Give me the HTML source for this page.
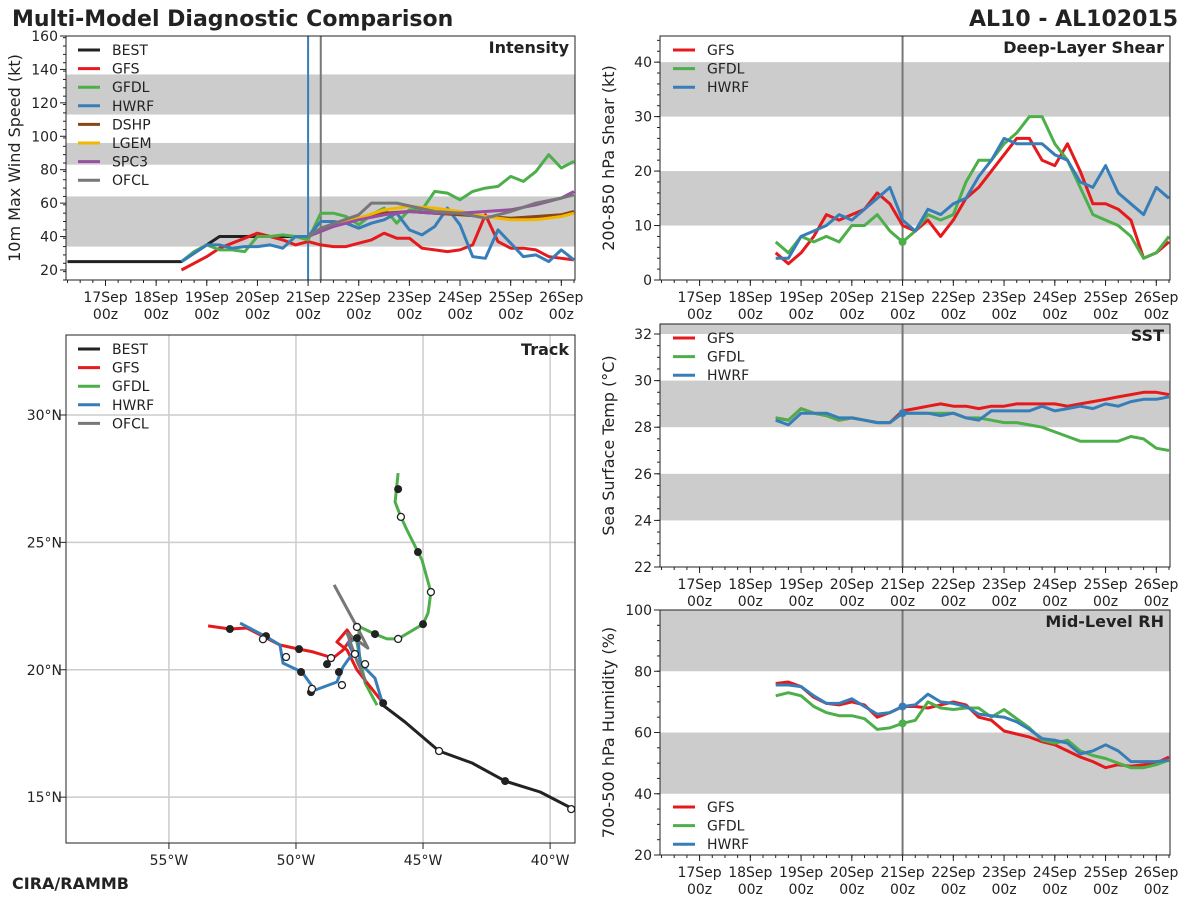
<!DOCTYPE html>
<html><head><meta charset="utf-8">
<style>
html,body{margin:0;padding:0;background:#fff;}
svg{display:block;font-family:"DejaVu Sans","Liberation Sans",sans-serif;}
</style></head>
<body>
<svg id="chart" width="1200" height="900" viewBox="0 0 1200 900" xmlns="http://www.w3.org/2000/svg">
<text x="12" y="26" font-size="22" font-weight="bold" fill="#222">Multi-Model Diagnostic Comparison</text>
<text x="1178" y="26" font-size="22" font-weight="bold" fill="#222" text-anchor="end">AL10 - AL102015</text>
<text x="12" y="889" font-size="16" font-weight="bold" fill="#222">CIRA/RAMMB</text>
</svg>
<script>
// ---------- data ----------
const days6h = [1.5,1.75,2,2.25,2.5,2.75,3,3.25,3.5,3.75,4,4.25,4.5,4.75,5,5.25,5.5,5.75,6,6.25,6.5,6.75,7,7.25,7.5,7.75,8,8.25,8.5,8.75,9,9.25];
const dayTickLabels = ["17Sep","18Sep","19Sep","20Sep","21Sep","22Sep","23Sep","24Sep","25Sep","26Sep"];
const bestDays = [-0.75,0,0.5,1,1.5,1.75,2,2.25,2.5,3,3.5,4];
const bestVmax = [25,25,25,25,25,30,35,40,40,40,40,40];
const gfsVmax = [20,24,28,33,36,39,42,40,38,35,37,35,34,34,36,38,42,39,39,33,32,31,32,35,53,37,33,33,32,28,27,26];
const gfdlVmax = [25,31,35,32,32,31,40,40,41,40,38,54,54,52,47,53,57,48,56,56,67,66,62,67,69,70,76,73,79,89,81,85];
const hwrfVmax = [25,30,35,35,33,34,34,35,33,40,40,49,49,48,45,48,50,54,44,41,46,57,47,28,27,44,36,28,29,25,32,26];
const statDays = [4,4.5,5,5.5,6,6.5,7,7.5,8,8.5,9,9.25];
const dshpVmax = [40,47,51,54,55,54,53,52,51,52,53,55];
const lgemVmax = [40,47,51,56,58,57,55,52,50,50,52,54];
const spc3Vmax = [40,46,50,53,55,54,54,55,56,59,63,67];
const ofclDays = [4,4.25,5,5.25,5.75,6.5,7,7.5,8,8.5,9,9.25];
const ofclVmax = [40,45,53,60,60,55,54,51,55,60,63,65];

const gfsShear = [5,3,5,8,12,11,12,13,16,14,10,9,11,8,11,15,17,20,23,26,26,22,21,25,20,14,14,13,11,4,5,7];
const gfdlShear = [7,5,8,7,8,7,10,10,12,9,7,9,12,11,12,18,22,22,25,27,30,30,25,22,17,12,11,10,8,4,5,8];
const hwrfShear = [4,4,8,9,10,12,11,13,15,17,11,9,13,12,14,15,19,22,26,25,25,25,23,22,18,17,21,16,14,12,17,15];

const gfsSst = [28.4,28.3,28.8,28.6,28.5,28.3,28.4,28.3,28.2,28.2,28.7,28.8,28.9,29,28.9,28.9,28.8,28.9,28.9,29,29,29,29,28.9,29,29.1,29.2,29.3,29.4,29.5,29.5,29.4];
const gfdlSst = [28.4,28.3,28.8,28.6,28.5,28.3,28.4,28.3,28.2,28.2,28.6,28.6,28.6,28.6,28.6,28.4,28.4,28.3,28.2,28.2,28.1,28,27.8,27.6,27.4,27.4,27.4,27.4,27.6,27.5,27.1,27.0];
const hwrfSst = [28.3,28.1,28.6,28.6,28.6,28.4,28.4,28.3,28.2,28.2,28.6,28.6,28.6,28.5,28.6,28.4,28.3,28.7,28.7,28.7,28.7,28.9,28.7,28.8,28.9,28.8,29,28.9,29.1,29.2,29.2,29.3];

const gfsRh = [76,76.5,75,71.5,69.5,69,70,69,65,66.5,68.5,68.5,68,69,70,69,65,64,60.5,59.5,58.5,57,56,54,52,50.5,48.5,49.5,49,49.5,50,52];
const gfdlRh = [72,73,72,68.5,66.5,65.5,65.5,64.5,61,61.5,63,64,70,68,67.5,68,68,65,67.5,64.5,61.5,57.5,56.5,57.5,54,52.5,51.5,50,48.5,48.5,49.5,51];
const hwrfRh = [75.5,75.5,75,72,69.5,69.5,71,68.5,66,66.5,68.5,69,72.5,70,69.5,68.5,66,65.5,65,63.5,61,58,57.5,56.5,53,54,56,54,50.5,50.5,50.5,51];

const bestLon = [-39.09,-40.39,-41.77,-43.07,-44.37,-45.71,-46.69];
const bestLat = [14.53,15.2,15.63,16.34,16.81,17.95,18.69];
const gfsLon = [-46.57,-47.6,-47.99,-48.39,-47.99,-47.8,-48.15,-48.54,-49.33,-49.88,-50.63,-51.93,-52.6,-53.46];
const gfsLat = [18.69,19.99,20.77,21.09,21.56,21.28,20.77,20.46,20.7,20.81,20.97,21.64,21.6,21.72];
const hwrfLon = [-46.57,-46.89,-47.48,-47.56,-47.95,-47.76,-48.15,-48.39,-49.25,-49.76,-50.51,-50.63,-51.14,-52.2];
const hwrfLat = [18.61,19.67,20.26,21.28,21.05,20.66,20.11,19.52,19.2,19.91,20.26,20.97,21.28,21.83];
const gfdlLon = [-46.81,-47.28,-47.6,-47.48,-46.89,-46.42,-45.98,-45.0,-44.8,-44.69,-45.04,-45.63,-45.87,-46.1,-45.98];
const gfdlLat = [18.61,19.48,21.05,21.68,21.4,21.21,21.21,21.79,22.23,23.05,24.31,25.48,26.0,26.58,27.72];
const ofclLon = [-47.24,-47.6,-47.99,-47.17,-47.6,-48.5];
const ofclLat = [19.52,20.34,21.44,20.85,21.68,23.33];
const dotFilledLon = [-52.6,-51.18,-49.88,-48.78,-48.31,-47.6,-46.89,-45.0,-45.2,-45.98,-49.8,-49.41,-41.77,-46.57];
const dotFilledLat = [21.6,21.32,20.81,20.22,19.91,21.24,21.4,21.79,24.62,27.09,19.91,19.12,15.63,18.69];
const dotOpenLon = [-51.3,-50.39,-48.62,-48.19,-49.37,-47.6,-47.68,-47.28,-45.98,-44.69,-45.87,-44.37,-39.17];
const dotOpenLat = [21.2,20.5,20.46,19.4,19.25,21.68,20.62,20.22,21.21,23.05,26.0,16.81,14.53];

const C = {BEST:"#222222",GFS:"#e41a1c",GFDL:"#4daf4a",HWRF:"#377eb8",DSHP:"#8b4513",LGEM:"#f2b701",SPC3:"#984ea3",OFCL:"#777777"};

// ---------- helpers ----------
const svg = document.getElementById('chart');
const NS = "http://www.w3.org/2000/svg";
function mk(tag, attrs, parent){
  const e = document.createElementNS(NS, tag);
  for (const k in attrs) e.setAttribute(k, attrs[k]);
  (parent||svg).appendChild(e);
  return e;
}
function txt(x,y,s,size,anchor,parent,weight){
  const t = mk('text',{x:x,y:y,'font-size':size,'text-anchor':anchor||'start',fill:'#222'},parent);
  if (weight) t.setAttribute('font-weight',weight);
  t.textContent = s;
  return t;
}
function linear(d0,d1,r0,r1){ return v => r0 + (v-d0)/(d1-d0)*(r1-r0); }

function timePanel(name, box, yMin, yMax, bands, yTicks, yMinor, ylabel, title){
  const g = mk('g',{});
  
  
  const xs = linear(-0.78, 9.27, box.x0, box.x1);
  const ys = linear(yMin, yMax, box.y1, box.y0);
  bands.forEach(b => {
    const r = mk('rect',{x:box.x0,y:ys(Math.min(b[1],yMax)),width:box.x1-box.x0,height:ys(b[0])-ys(Math.min(b[1],yMax)),fill:'#cccccc'},g);
    
    
  });
  // y ticks
  yTicks.forEach(v => {
    mk('line',{x1:box.x0-6,x2:box.x0,y1:ys(v),y2:ys(v),stroke:'#222','stroke-width':1},g);
    const t = txt(box.x0-8, ys(v)+5, String(v), 14, 'end', g);
    
    
  });
  for (let v=yMin; v<=yMax; v+=yMinor){
    mk('line',{x1:box.x0-3,x2:box.x0,y1:ys(v),y2:ys(v),stroke:'#222','stroke-width':1},g);
  }
  // x ticks
  dayTickLabels.forEach((s,i) => {
    mk('line',{x1:xs(i),x2:xs(i),y1:box.y1,y2:box.y1+6,stroke:'#222','stroke-width':1},g);
    const t1 = txt(xs(i), box.y1+22, s, 14, 'middle', g);
    
    
    txt(xs(i), box.y1+39, '00z', 14, 'middle', g);
  });
  for (let d=-0.75; d<=9.25; d+=0.25){
    mk('line',{x1:xs(d),x2:xs(d),y1:box.y1,y2:box.y1+3,stroke:'#222','stroke-width':1},g);
  }
  const yl = txt(0,0,ylabel,16,'middle',g);
  yl.setAttribute('transform','translate('+(box.x0-46)+','+((box.y0+box.y1)/2)+') rotate(-90)');
  
  
  const tt = txt(box.x1-6, box.y0+17, title, 16, 'end', g, 'bold');
  
  
  return {g, xs, ys, box};
}
function series(p, days, vals, color, name){
  const pts = days.map((d,i)=>p.xs(d).toFixed(1)+','+p.ys(vals[i]).toFixed(1)).join(' ');
  const l = mk('polyline',{points:pts,fill:'none',stroke:color,'stroke-width':3,'stroke-linejoin':'round'},p.g);
  
  
  return l;
}
function frame(p){
  const b = p.box;
  const r = mk('rect',{x:b.x0,y:b.y0,width:b.x1-b.x0,height:b.y1-b.y0,fill:'none',stroke:'#222','stroke-width':1},p.g);
  
  
}
function legend(g, x, y, names, step){
  names.forEach((n,i) => {
    const yy = y + i*step;
    const ln = mk('line',{x1:x,x2:x+22,y1:yy,y2:yy,stroke:C[n],'stroke-width':3},g);
    
    
    const t = txt(x+34, yy+5, n, 14, 'start', g);
    
    
  });
}

// ---------- Intensity ----------
const pI = timePanel('intensity',{x0:66,x1:575,y0:36,y1:280},14,160,[[34,64],[83,96],[113,137]],[20,40,60,80,100,120,140,160],5,'10m Max Wind Speed (kt)','Intensity');
const v1 = mk('line',{x1:pI.xs(4),x2:pI.xs(4),y1:36,y2:280,stroke:C.HWRF,'stroke-width':2},pI.g);


const v2 = mk('line',{x1:pI.xs(4.25),x2:pI.xs(4.25),y1:36,y2:280,stroke:'#777','stroke-width':2},pI.g);


series(pI, bestDays, bestVmax, C.BEST, 'best-intensity-line');
series(pI, days6h, gfsVmax, C.GFS, 'gfs-intensity-line');
series(pI, days6h, gfdlVmax, C.GFDL, 'gfdl-intensity-line');
series(pI, days6h, hwrfVmax, C.HWRF, 'hwrf-intensity-line');
series(pI, statDays, dshpVmax, C.DSHP, 'dshp-intensity-line');
series(pI, statDays, lgemVmax, C.LGEM, 'lgem-intensity-line');
series(pI, statDays, spc3Vmax, C.SPC3, 'spc3-intensity-line');
series(pI, ofclDays, ofclVmax, C.OFCL, 'ofcl-intensity-line');
frame(pI);
legend(pI.g, 78, 50, ['BEST','GFS','GFDL','HWRF','DSHP','LGEM','SPC3','OFCL'], 18.6);

// ---------- Shear ----------
const pS = timePanel('shear',{x0:660,x1:1170,y0:36,y1:280},0,44.8,[[10,20],[30,40]],[0,10,20,30,40],2,'200-850 hPa Shear (kt)','Deep-Layer Shear');
mk('line',{x1:pS.xs(4),x2:pS.xs(4),y1:36,y2:280,stroke:'#777','stroke-width':2},pS.g);
series(pS, days6h, gfsShear, C.GFS, 'gfs-shear-line');
series(pS, days6h, gfdlShear, C.GFDL, 'gfdl-shear-line');
series(pS, days6h, hwrfShear, C.HWRF, 'hwrf-shear-line');
mk('circle',{cx:pS.xs(4),cy:pS.ys(gfdlShear[10]),r:4,fill:C.GFDL},pS.g);
frame(pS);
legend(pS.g, 673, 50, ['GFS','GFDL','HWRF'], 18.6);

// ---------- SST ----------
const pT = timePanel('sst',{x0:660,x1:1170,y0:324,y1:567},22,32.43,[[24,26],[28,30],[32,33]],[22,24,26,28,30,32],0.5,'Sea Surface Temp (°C)','SST');
mk('line',{x1:pT.xs(4),x2:pT.xs(4),y1:324,y2:567,stroke:'#777','stroke-width':2},pT.g);
series(pT, days6h, gfsSst, C.GFS, 'gfs-sst-line');
series(pT, days6h, gfdlSst, C.GFDL, 'gfdl-sst-line');
series(pT, days6h, hwrfSst, C.HWRF, 'hwrf-sst-line');
mk('circle',{cx:pT.xs(4),cy:pT.ys(hwrfSst[10]),r:4,fill:C.HWRF},pT.g);
frame(pT);
legend(pT.g, 673, 338, ['GFS','GFDL','HWRF'], 18.6);

// ---------- RH ----------
const pR = timePanel('rh',{x0:660,x1:1170,y0:610,y1:855},20,100,[[40,60],[80,100]],[20,40,60,80,100],5,'700-500 hPa Humidity (%)','Mid-Level RH');
mk('line',{x1:pR.xs(4),x2:pR.xs(4),y1:610,y2:855,stroke:'#777','stroke-width':2},pR.g);
series(pR, days6h, gfsRh, C.GFS, 'gfs-rh-line');
series(pR, days6h, gfdlRh, C.GFDL, 'gfdl-rh-line');
series(pR, days6h, hwrfRh, C.HWRF, 'hwrf-rh-line');
mk('circle',{cx:pR.xs(4),cy:pR.ys(gfdlRh[10]),r:4,fill:C.GFDL},pR.g);
mk('circle',{cx:pR.xs(4),cy:pR.ys(hwrfRh[10]),r:4,fill:C.HWRF},pR.g);
frame(pR);
legend(pR.g, 673, 807, ['GFS','GFDL','HWRF'], 18.6);

// ---------- Track ----------
const tg = mk('g',{});


const TB = {x0:66,x1:575,y0:335,y1:843};
const lonS = linear(-59.05,-39.02,TB.x0,TB.x1);
const latS = linear(13.2,33.14,TB.y1,TB.y0);
const lonTicks = [-55,-50,-45,-40];
const latTicks = [15,20,25,30];
lonTicks.forEach(l => {
  mk('line',{x1:lonS(l),x2:lonS(l),y1:TB.y0,y2:TB.y1,stroke:'#cccccc','stroke-width':1.5},tg);
  mk('line',{x1:lonS(l),x2:lonS(l),y1:TB.y1,y2:TB.y1+6,stroke:'#222'},tg);
  const t = txt(lonS(l), TB.y1+22, Math.abs(l)+'°W', 14, 'middle', tg);
  
  
});
latTicks.forEach(l => {
  mk('line',{x1:TB.x0,x2:TB.x1,y1:latS(l),y2:latS(l),stroke:'#cccccc','stroke-width':1.5},tg);
  mk('line',{x1:TB.x0-6,x2:TB.x0,y1:latS(l),y2:latS(l),stroke:'#222'},tg);
  const t = txt(TB.x0-4, latS(l)+5, l+'°N', 14, 'end', tg);
  
  
});
function track(lons, lats, color, name){
  const pts = lons.map((l,i)=>lonS(l).toFixed(1)+','+latS(lats[i]).toFixed(1)).join(' ');
  const p = mk('polyline',{points:pts,fill:'none',stroke:color,'stroke-width':3,'stroke-linejoin':'round'},tg);
  
  
}
track(bestLon,bestLat,C.BEST,'best-track');
track(gfdlLon,gfdlLat,C.GFDL,'gfdl-track');
track(gfsLon,gfsLat,C.GFS,'gfs-track');
track(hwrfLon,hwrfLat,C.HWRF,'hwrf-track');
track(ofclLon,ofclLat,C.OFCL,'ofcl-track');
dotFilledLon.forEach((l,i)=>{
  const c = mk('circle',{cx:lonS(l),cy:latS(dotFilledLat[i]),r:4,fill:'#222'},tg);
  
  
});
dotOpenLon.forEach((l,i)=>{
  const c = mk('circle',{cx:lonS(l),cy:latS(dotOpenLat[i]),r:3.5,fill:'#fff',stroke:'#222','stroke-width':1.3},tg);
  
  
});
const trf = mk('rect',{x:TB.x0,y:TB.y0,width:TB.x1-TB.x0,height:TB.y1-TB.y0,fill:'none',stroke:'#222','stroke-width':1},tg);


const tt = txt(TB.x1-6, TB.y0+20, 'Track', 16, 'end', tg, 'bold');


legend(tg, 78, 349, ['BEST','GFS','GFDL','HWRF','OFCL'], 18.6);
</script>
</body></html>
